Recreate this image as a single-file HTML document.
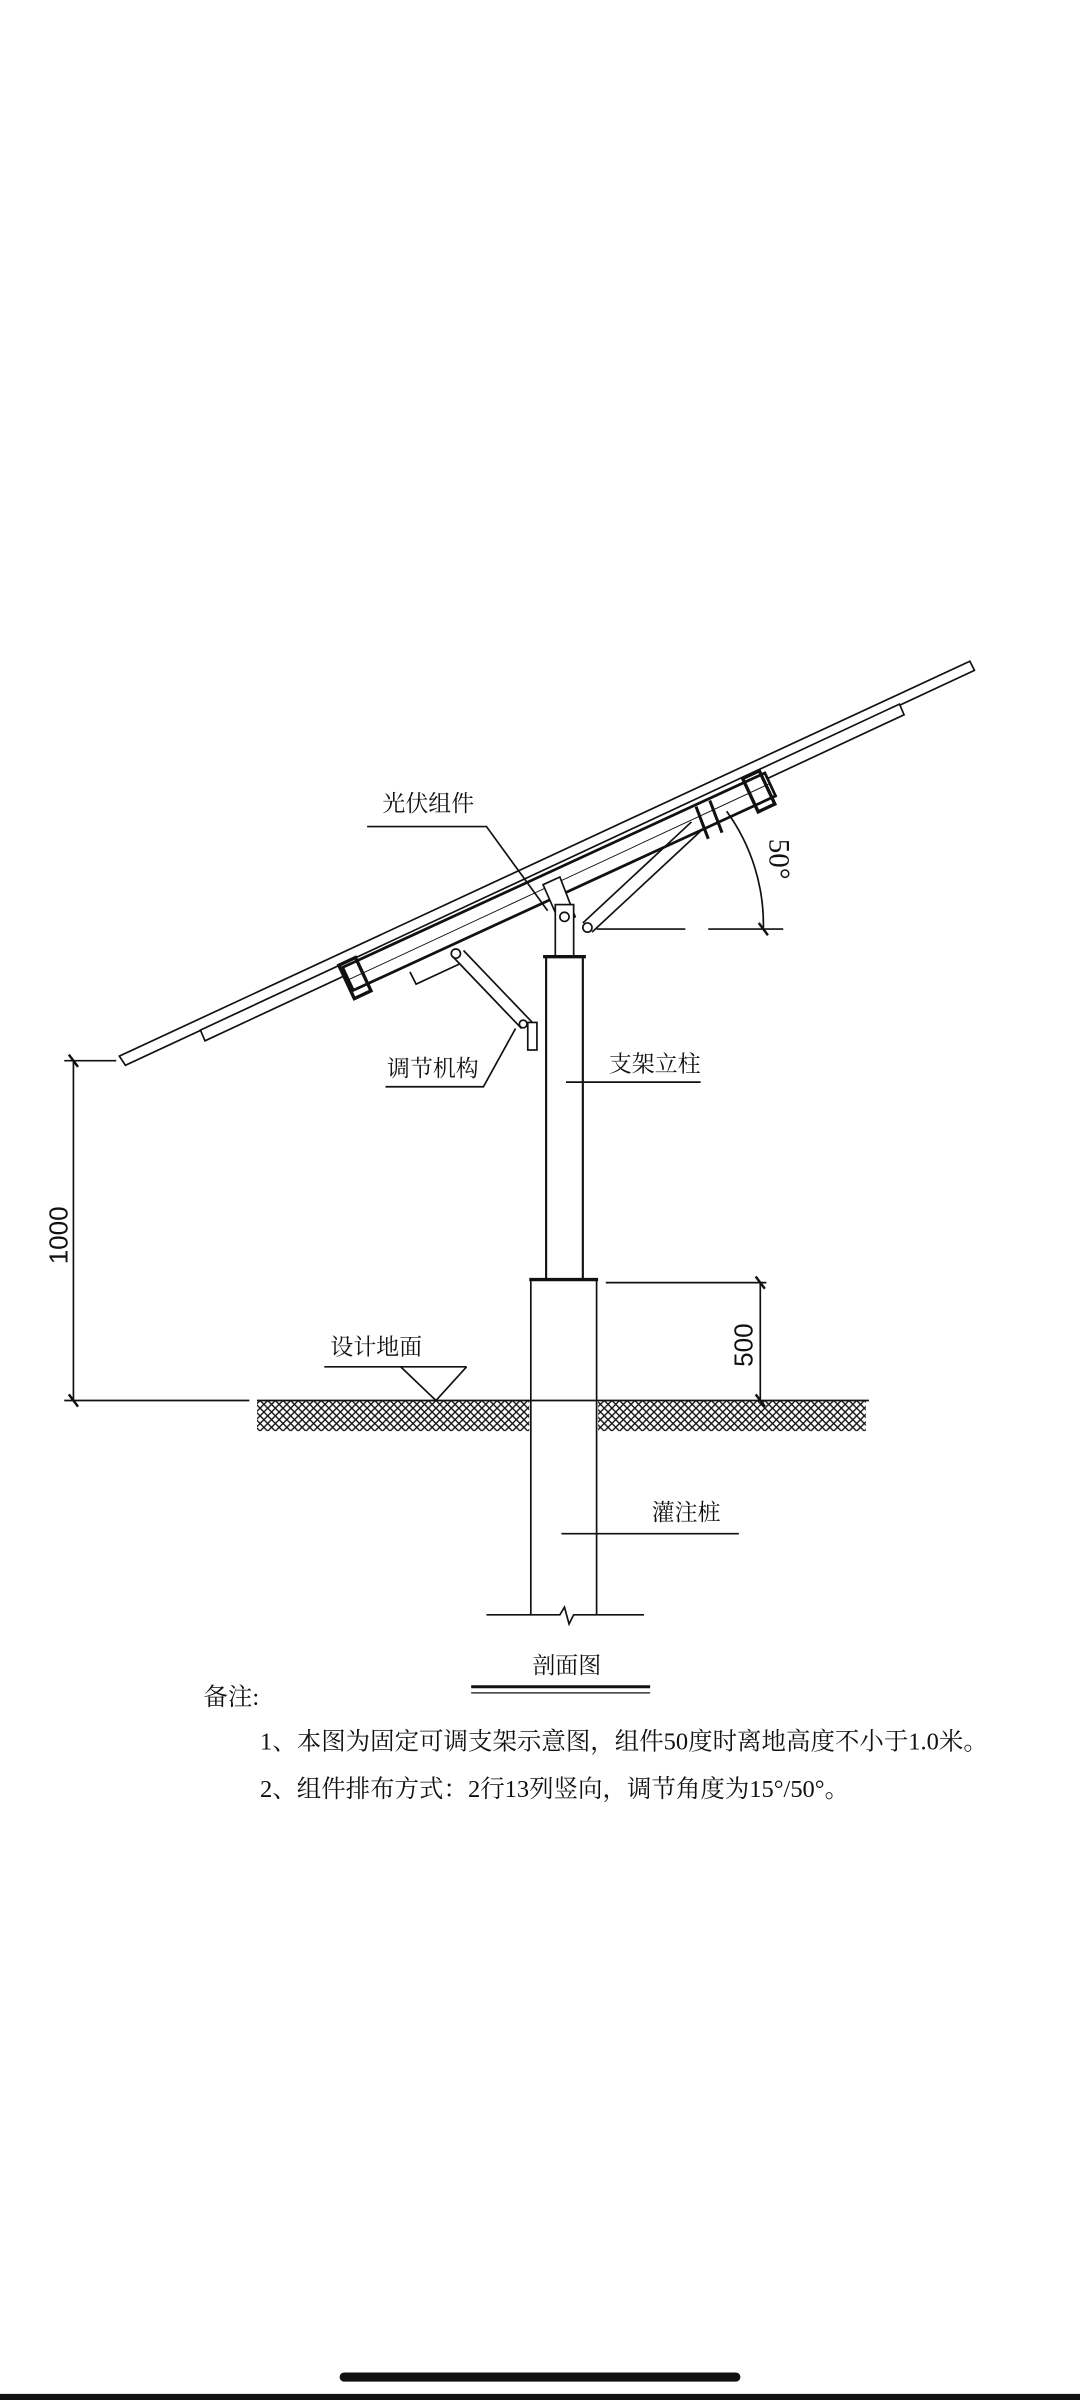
<!DOCTYPE html>
<html><head><meta charset="utf-8"><style>
html,body{margin:0;padding:0;background:#fff;}
svg{display:block;}
text{font-family:"Liberation Serif","Noto Serif CJK SC","Noto Sans CJK SC",serif;fill:#111;}
</style></head><body>
<svg width="1080" height="2400" viewBox="0 0 706 1568" preserveAspectRatio="none" xmlns="http://www.w3.org/2000/svg">
<defs>
<pattern id="h" width="5" height="5" patternUnits="userSpaceOnUse">
<path d="M0,0 L5,5 M5,0 L0,5" stroke="#111" stroke-width="0.9"/>
</pattern>
</defs>
<g stroke="#111" fill="none" stroke-width="1.1">
<polygon points="78,690 634,432 637,438 82,696" fill="#fff"/>
<polygon points="131,673 588,460 591,467 134,680" fill="#fff"/>
<polygon points="224,632 500,505 507,520 231,647" fill="#fff" stroke-width="1.8"/>
<line x1="228" y1="640" x2="503" y2="512" stroke-width="0.6"/>
<rect x="-6" y="-12" width="12" height="24" transform="translate(232,639) rotate(-25)" stroke-width="2.2"/>
<rect x="-6" y="-12" width="12" height="24" transform="translate(496,517) rotate(-25)" stroke-width="2.2"/>
<line x1="455" y1="527" x2="463" y2="548" stroke-width="2"/>
<line x1="464" y1="523" x2="472" y2="544" stroke-width="2"/>
<polyline points="268,635 272,643 300,630"/>
<line x1="381" y1="603" x2="452" y2="537"/>
<line x1="387" y1="609" x2="458" y2="543"/>
<circle cx="384" cy="606" r="3"/>
<polygon points="355,578 366,573 376,599 366,603" fill="#fff"/>
<line x1="296" y1="625" x2="341" y2="672"/>
<line x1="303" y1="621" x2="348" y2="668"/>
<circle cx="298" cy="623" r="3"/>
<circle cx="342" cy="669" r="2.5"/>
<rect x="345" y="668" width="6" height="18"/>
<rect x="363" y="591" width="12" height="34" fill="#fff"/>
<circle cx="369" cy="599" r="3"/>
<line x1="355" y1="625" x2="383" y2="625" stroke-width="2.2"/>
<line x1="357" y1="625" x2="357" y2="836" stroke-width="1.4"/>
<line x1="381" y1="625" x2="381" y2="836" stroke-width="1.4"/>
<line x1="346" y1="836" x2="391" y2="836" stroke-width="2.2"/>
<line x1="347" y1="836" x2="347" y2="1055"/>
<line x1="390" y1="836" x2="390" y2="1055"/>
<polyline points="318,1055 366,1055 369,1050 372,1061 375,1055 421,1055"/>
<line x1="168" y1="915" x2="568" y2="915"/>
<rect x="168" y="915" width="178" height="20" fill="url(#h)" stroke="none"/>
<rect x="391" y="915" width="175" height="20" fill="url(#h)" stroke="none"/>
<line x1="212" y1="893" x2="305" y2="893"/>
<polyline points="262,893 285,915 305,893"/>
<line x1="48" y1="693" x2="48" y2="915"/>
<line x1="42" y1="693" x2="76" y2="693"/>
<line x1="42" y1="915" x2="163" y2="915"/>
<line x1="45" y1="689" x2="51" y2="697" stroke-width="1.6"/>
<line x1="45" y1="911" x2="51" y2="919" stroke-width="1.6"/>
<line x1="497" y1="838" x2="497" y2="915"/>
<line x1="396" y1="838" x2="501" y2="838"/>
<line x1="494" y1="834" x2="500" y2="842" stroke-width="1.6"/>
<line x1="494" y1="911" x2="500" y2="919" stroke-width="1.6"/>
<line x1="390" y1="607" x2="448" y2="607"/>
<line x1="463" y1="607" x2="512" y2="607"/>
<path d="M499,607 A126,126 0 0 0 475,530"/>
<line x1="496" y1="603" x2="502" y2="611" stroke-width="1.6"/>
<polyline points="240,540 318,540 358,595"/>
<polyline points="252,710 316,710 337,672"/>
<line x1="370" y1="707" x2="458" y2="707"/>
<line x1="367" y1="1002" x2="483" y2="1002"/>
<line x1="308" y1="1102" x2="425" y2="1102" stroke-width="2"/>
<line x1="308" y1="1106" x2="425" y2="1106" stroke-width="0.8"/>
</g>
<g font-size="15">
<text x="250" y="530">光伏组件</text>
<text x="253" y="703">调节机构</text>
<text x="398" y="700">支架立柱</text>
<text x="216" y="885">设计地面</text>
<text x="426" y="993">灌注桩</text>
<text x="348" y="1093">剖面图</text>
<text x="133" y="1114" font-size="16">备注:</text>
<text x="170" y="1143" font-size="16">1、本图为固定可调支架示意图，组件50度时离地高度不小于1.0米。</text>
<text x="170" y="1174" font-size="16">2、组件排布方式：2行13列竖向，调节角度为15°/50°。</text>
</g>
<text transform="translate(44,826) rotate(-90)" style="font-family:'Liberation Sans',sans-serif" font-size="17">1000</text>
<text transform="translate(492,893) rotate(-90)" style="font-family:'Liberation Sans',sans-serif" font-size="17">500</text>
<text transform="translate(503,548) rotate(90)" style="font-family:'Liberation Serif',serif" font-size="19">50°</text>
<rect x="222" y="1550" width="262" height="6" rx="3" fill="#111"/>
<rect x="0" y="1564" width="706" height="4" fill="#111"/>
</svg>
</body></html>
